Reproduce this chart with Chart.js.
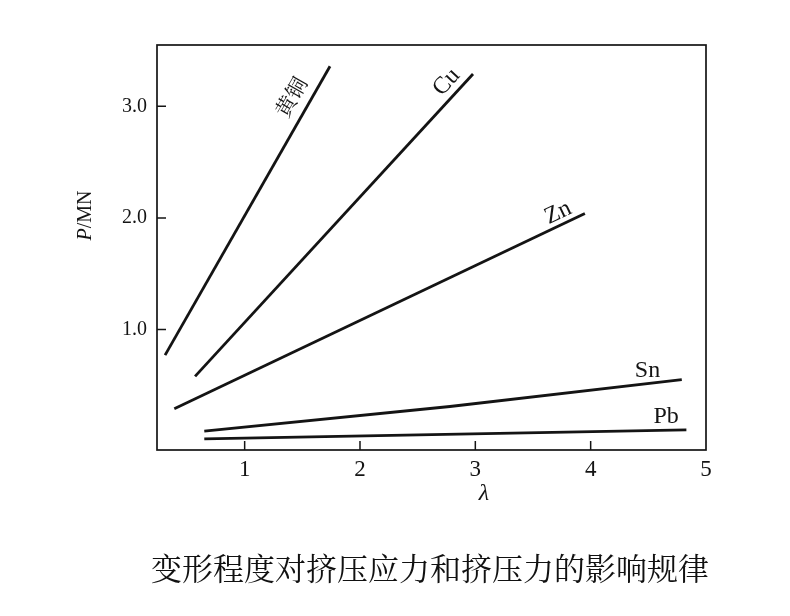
<!DOCTYPE html>
<html>
<head>
<meta charset="utf-8">
<script src="https://cdn.jsdelivr.net/npm/chart.js@4.4.1/dist/chart.umd.min.js"></script>
<style>
  body { margin: 0; background: #fff; }
  canvas { display: block; }
</style>
</head>
<body>
<canvas id="chart" width="790" height="616"></canvas>
<script>
// Values (lambda on x, P in MN on y)
const brassLambda = [0.31, 1.74];
const brassP = [0.77, 3.36];
const cuLambda = [0.57, 2.98];
const cuP = [0.58, 3.29];
const znLambda = [0.39, 3.95];
const znP = [0.29, 2.04];
const snLambda = [0.65, 2.78, 4.79];
const snP = [0.09, 0.31, 0.55];
const pbLambda = [0.65, 4.83];
const pbP = [0.02, 0.10];

const seriesNames = ['黄铜', 'Cu', 'Zn', 'Sn', 'Pb'];
const xTicks = [1, 2, 3, 4, 5];
const yTicks = [1, 2, 3];
const caption = '变形程度对挤压应力和挤压力的影响规律';

const ink = '#141414';
const serif = '"Liberation Serif", "DejaVu Serif", serif';
const cjk = '"Noto Serif CJK SC", "Noto Sans CJK SC", sans-serif';

function toPoints(xs, ys) {
  return xs.map((x, i) => ({ x: x, y: ys[i] }));
}

// where each curve's name sits, relative to the end of the line
const labelStyle = [
  { back: 46, side: 19, flat: false, font: '21px ' + cjk },
  { back: 24, side: 14, flat: false, font: '24px ' + serif },
  { back: 24, side: 12, flat: false, font: '24px ' + serif },
  { back: 33, side: 13, flat: true, font: '24px ' + serif },
  { back: 20, side: 14, flat: true, font: '24px ' + serif }
];

const lineData = [
  toPoints(brassLambda, brassP),
  toPoints(cuLambda, cuP),
  toPoints(znLambda, znP),
  toPoints(snLambda, snP),
  toPoints(pbLambda, pbP)
];

// box, inward ticks, curve names, axis titles and caption
const decorPlugin = {
  id: 'decor',
  afterDraw(chart) {
    const ctx = chart.ctx;
    const area = chart.chartArea;
    const xs = chart.scales.x;
    const ys = chart.scales.y;
    ctx.save();
    ctx.strokeStyle = ink;
    ctx.lineWidth = 1.7;
    ctx.strokeRect(area.left, area.top, area.right - area.left, area.bottom - area.top);

    ctx.lineWidth = 1.5;
    ctx.beginPath();
    xTicks.forEach(v => {
      const px = xs.getPixelForValue(v);
      if (px < area.right - 2) {
        ctx.moveTo(px, area.bottom);
        ctx.lineTo(px, area.bottom - 9);
      }
    });
    yTicks.forEach(v => {
      const py = ys.getPixelForValue(v);
      ctx.moveTo(area.left, py);
      ctx.lineTo(area.left + 9, py);
    });
    ctx.stroke();

    // curve names
    ctx.fillStyle = ink;
    ctx.textAlign = 'center';
    ctx.textBaseline = 'middle';
    chart.data.datasets.forEach((ds, i) => {
      const meta = chart.getDatasetMeta(i);
      const n = meta.data.length;
      const a = meta.data[n - 2];
      const b = meta.data[n - 1];
      const len = Math.hypot(b.x - a.x, b.y - a.y);
      const ux = (b.x - a.x) / len;
      const uy = (b.y - a.y) / len;
      const st = labelStyle[i];
      const cx = b.x - st.back * ux + st.side * uy;
      const cy = b.y - st.back * uy - st.side * ux;
      ctx.save();
      ctx.translate(cx, cy);
      if (!st.flat) ctx.rotate(Math.atan2(uy, ux));
      ctx.font = st.font;
      ctx.fillText(ds.label, 0, 0);
      ctx.restore();
    });

    // y title: italic P then /MN, rotated
    ctx.save();
    ctx.translate(86, (area.top + area.bottom) / 2 - 32);
    ctx.rotate(-Math.PI / 2);
    ctx.textAlign = 'left';
    ctx.font = 'italic 20px ' + serif;
    const wP = ctx.measureText('P').width;
    ctx.font = '20px ' + serif;
    const wRest = ctx.measureText('/MN').width;
    const start = -(wP + wRest) / 2;
    ctx.font = 'italic 20px ' + serif;
    ctx.fillText('P', start, 0);
    ctx.font = '20px ' + serif;
    ctx.fillText('/MN', start + wP, 0);
    ctx.restore();

    // x title
    ctx.font = 'italic 24px ' + serif;
    ctx.textAlign = 'center';
    ctx.fillText('λ', 484, 494);

    // caption
    ctx.font = '31px ' + cjk;
    ctx.fillStyle = '#111';
    ctx.fillText(caption, 430, 568);
    ctx.restore();
  }
};

const ctx = document.getElementById('chart').getContext('2d');
const chart = new Chart(ctx, {
  type: 'line',
  data: {
    datasets: seriesNames.map((name, i) => ({
      label: name,
      data: lineData[i],
      borderColor: ink,
      borderWidth: 2.8,
      pointRadius: 0,
      fill: false,
      tension: 0
    }))
  },
  options: {
    responsive: false,
    animation: false,
    layout: { padding: { left: 0, top: 45, right: 84, bottom: 0 } },
    plugins: {
      legend: { display: false },
      tooltip: { enabled: false }
    },
    scales: {
      x: {
        type: 'linear',
        min: 0.24,
        max: 5,
        afterBuildTicks: s => { s.ticks = xTicks.map(v => ({ value: v })); },
        afterFit: s => { s.height = 616 - 450; },
        grid: { display: false, drawTicks: false },
        border: { display: false },
        ticks: {
          padding: 6,
          color: ink,
          font: { family: serif, size: 23 },
          maxRotation: 0,
          callback: v => String(v)
        }
      },
      y: {
        type: 'linear',
        min: -0.08,
        max: 3.55,
        afterBuildTicks: s => { s.ticks = yTicks.map(v => ({ value: v })); },
        afterFit: s => { s.width = 157; },
        grid: { display: false, drawTicks: false },
        border: { display: false },
        ticks: {
          padding: 10,
          color: ink,
          font: { family: serif, size: 20 },
          callback: v => v.toFixed(1)
        }
      }
    }
  },
  plugins: [decorPlugin]
});
</script>
</body>
</html>
